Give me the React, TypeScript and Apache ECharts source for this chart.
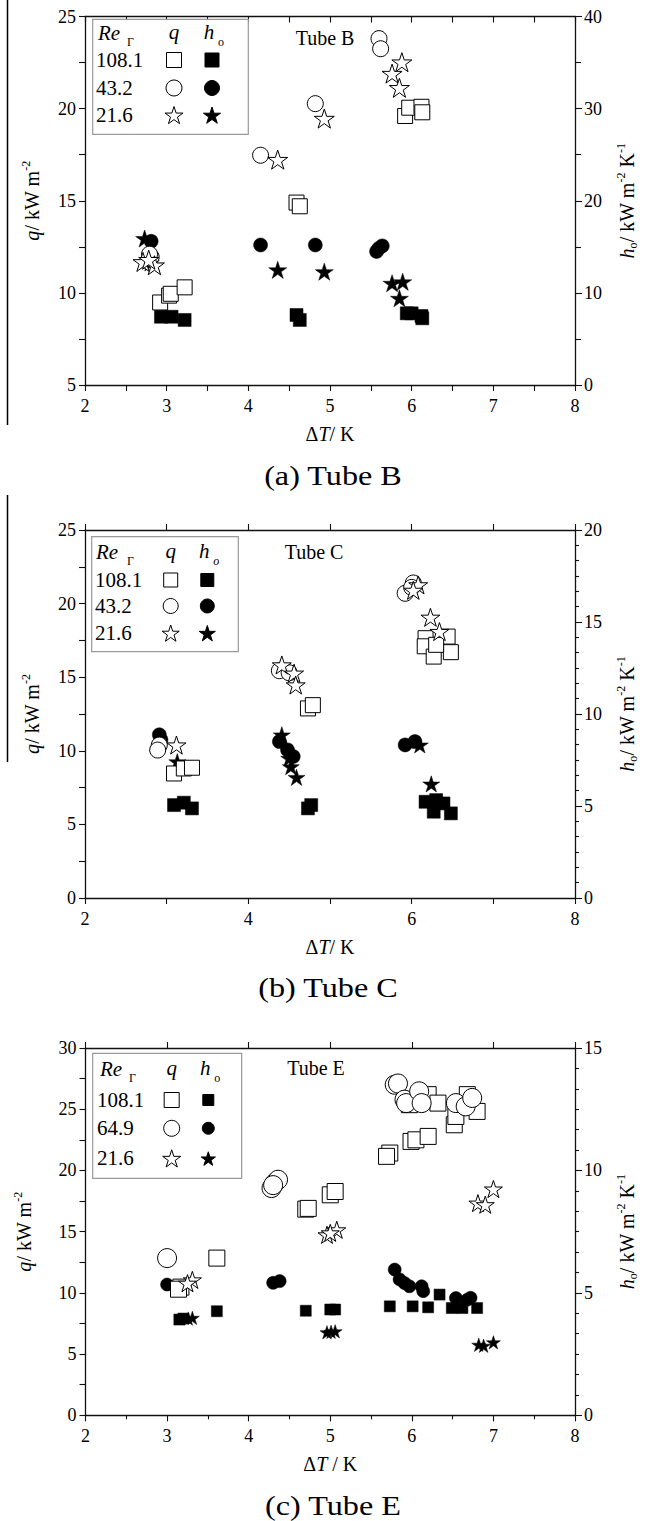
import React, { useEffect, useRef } from "react";
import * as echarts from "echarts";

const FONT = '"Liberation Serif", "Times New Roman", serif';
const STAR =
  "path://M50 0 L61.23 34.55 L97.55 34.55 L68.17 55.9 L79.39 90.45 L50 69.1 L20.61 90.45 L31.83 55.9 L2.45 34.55 L38.77 34.55 Z";

// ---------- Panel (a) Tube B : [ΔT (K), value] ----------
const aQ108 = [[2.92, 9.48], [3.03, 9.85], [3.05, 9.95], [3.22, 10.3], [4.59, 14.9], [4.63, 14.7], [5.92, 19.6], [5.97, 20.05], [6.12, 20.1], [6.13, 19.8]];
const aQ43 = [[2.81, 11.95], [2.79, 12.1], [4.15, 17.47], [4.82, 20.27], [5.6, 23.8], [5.62, 23.25]];
const aQ21 = [[2.71, 11.68], [2.85, 11.5], [2.78, 11.8], [4.36, 17.23], [4.93, 19.46], [5.88, 22.52], [5.76, 21.9], [5.85, 21.13]];
const aH108 = [[2.93, 7.41], [3.06, 7.41], [3.22, 7.06], [4.59, 7.6], [4.63, 7.06], [5.94, 7.78], [6.0, 7.78], [6.12, 7.49], [6.13, 7.24]];
const aH43 = [[2.81, 15.6], [4.15, 15.2], [4.82, 15.2], [5.6, 14.84], [5.64, 15.1], [5.57, 14.5]];
const aH21 = [[2.73, 15.9], [2.85, 13.0], [2.8, 13.3], [4.36, 12.5], [4.93, 12.3], [5.76, 11.04], [5.89, 11.2], [5.85, 9.41]];

// ---------- Panel (b) Tube C ----------
const bQ108 = [[3.09, 8.46], [3.21, 8.8], [3.31, 8.85], [4.73, 12.88], [4.79, 13.1], [6.17, 17.65], [6.44, 17.76], [6.16, 17.1], [6.27, 16.4], [6.48, 16.7], [6.3, 17.2]];
const bQ43 = [[2.91, 10.39], [2.89, 10.05], [4.38, 15.44], [4.5, 15.3], [5.92, 20.7], [6.02, 21.4], [6.0, 21.1]];
const bQ21 = [[3.12, 10.39], [4.41, 15.83], [4.56, 15.27], [4.58, 14.47], [6.08, 21.27], [6.02, 20.9], [6.23, 19.07], [6.34, 18.1]];
const bH108 = [[3.09, 5.05], [3.21, 5.18], [3.31, 4.87], [4.73, 4.87], [4.77, 5.05], [6.17, 5.23], [6.27, 4.69], [6.39, 5.14], [6.48, 4.6], [6.3, 5.32]];
const bH43 = [[2.91, 8.87], [2.93, 8.6], [4.38, 8.5], [4.48, 8.05], [4.55, 7.69], [5.92, 8.32], [6.04, 8.5]];
const bH21 = [[3.13, 7.41], [4.41, 8.87], [4.52, 7.14], [4.59, 6.56], [4.5, 7.6], [6.1, 8.32], [6.24, 6.2]];

// ---------- Panel (c) Tube E ----------
const cQ108 = [[3.17, 10.47], [3.14, 10.3], [3.61, 12.84], [4.7, 16.84], [4.73, 16.9], [5.0, 18.01], [5.06, 18.28], [5.73, 21.42], [5.69, 21.15], [5.99, 22.37], [6.05, 22.5], [6.2, 22.78], [5.97, 25.37], [6.2, 26.19], [6.32, 25.5], [6.52, 23.73], [6.54, 24.41], [6.68, 26.19], [6.8, 24.82]];
const cQ64 = [[3.0, 12.84], [4.28, 18.56], [4.32, 18.97], [4.36, 19.24], [4.3, 18.8], [5.79, 27.0], [5.83, 27.1], [5.91, 25.78], [5.93, 25.5], [6.09, 26.46], [6.12, 25.5], [6.54, 25.5], [6.66, 25.23], [6.74, 25.92]];
const cQ21 = [[3.31, 11.06], [3.25, 10.79], [4.96, 14.74], [5.08, 15.15], [5.0, 14.9], [7.0, 18.48], [6.81, 17.33], [6.9, 17.2]];
const cH108 = [[3.15, 3.91], [3.2, 3.95], [3.61, 4.25], [4.7, 4.27], [5.0, 4.32], [5.06, 4.32], [5.73, 4.45], [6.01, 4.45], [6.2, 4.41], [6.34, 4.93], [6.49, 4.38], [6.62, 4.38], [6.8, 4.38]];
const cH64 = [[3.0, 5.34], [4.3, 5.41], [4.38, 5.48], [5.79, 5.95], [5.85, 5.55], [5.91, 5.4], [5.97, 5.27], [6.12, 5.27], [6.14, 5.07], [6.54, 4.79], [6.68, 4.72], [6.72, 4.8]];
const cH21 = [[3.31, 3.98], [3.26, 3.95], [4.96, 3.39], [5.06, 3.43], [5.01, 3.41], [6.82, 2.88], [6.88, 2.84], [7.0, 2.98]];

const legendA = ["108.1", "43.2", "21.6"];
const legendB = ["108.1", "43.2", "21.6"];
const legendC = ["108.1", "64.9", "21.6"];

const LINE = { color: "#111", width: 1.3 };
const TICKLINE = { color: "#111", width: 1.1 };
const richBase = {
  i: { fontStyle: "italic", fontFamily: FONT, fontSize: 20, color: "#000", lineHeight: 24 },
  sup: { fontFamily: FONT, fontSize: 12, color: "#000", verticalAlign: "top", lineHeight: 12 },
  sub: { fontFamily: FONT, fontSize: 12, color: "#000", verticalAlign: "bottom", lineHeight: 12 },
};
const NAME_STYLE = { fontFamily: FONT, fontSize: 20, color: "#000", lineHeight: 24, rich: richBase };

function starPts(cx, cy, r) {
  const pts = [];
  for (let k = 0; k < 10; k++) {
    const rr = k % 2 === 0 ? r : r * 0.382;
    const ang = (-90 + 36 * k) * (Math.PI / 180);
    pts.push([cx + rr * Math.cos(ang), cy + rr * Math.sin(ang)]);
  }
  return pts;
}

function legendGraphic(cfg) {
  const els = [];
  els.push({ type: "rect", z: 100, shape: { x: cfg.box[0], y: cfg.box[1], width: cfg.box[2], height: cfg.box[3] }, style: { fill: "#fff", stroke: "#999", lineWidth: 1.2 } });
  const t = (text, x, y, size, italic, align) => ({
    type: "text", z: 101, x, y,
    style: { text, fontFamily: FONT, fontSize: size, fontStyle: italic ? "italic" : "normal", fill: "#000", align: align || "left", verticalAlign: "middle" },
  });
  els.push(t("Re", cfg.reX, cfg.hy, 21, true));
  els.push(t("Γ", cfg.gX, cfg.hy + 9, 12, false));
  els.push(t("q", cfg.qX, cfg.hy - 1, 21, true, "center"));
  els.push(t("h", cfg.hX - 3, cfg.hy - 1, 21, true, "center"));
  els.push(t("o", cfg.hX + 9, cfg.hy + 9, 12, cfg.oItalic, "center"));
  cfg.labels.forEach((lab, r) => {
    const y = cfg.rows[r];
    els.push(t(lab, cfg.txtX, y, 21, false));
    for (let c = 0; c < 2; c++) {
      const x = c === 0 ? cfg.qX : cfg.hX;
      const filled = c === 1;
      const s = filled ? cfg.fs : cfg.os;
      const style = filled ? { fill: "#000", stroke: "#000", lineWidth: 1 } : { fill: "#fff", stroke: "#000", lineWidth: 1 };
      if (r === 0) els.push({ type: "rect", z: 101, shape: { x: x - s / 2, y: y - s / 2, width: s, height: s }, style });
      else if (r === 1) els.push({ type: "circle", z: 101, shape: { cx: x, cy: y, r: s / 2 + 0.5 }, style });
      else els.push({ type: "polygon", z: 101, shape: { points: starPts(x, y + 1, s / 2 + 2) }, style });
    }
  });
  return els;
}

function panel(i, p) {
  const grid = { left: p.grid[0], top: p.grid[1], width: p.grid[2], height: p.grid[3] };
  const xb = {
    type: "value", gridIndex: i, position: "bottom", min: 2, max: 8, interval: p.xInt,
    axisLine: { show: true, onZero: false, lineStyle: LINE },
    axisTick: { show: true, inside: false, length: 6, lineStyle: TICKLINE },
    minorTick: { show: p.xMinor > 1, splitNumber: p.xMinor, length: p.xMinorLen, lineStyle: TICKLINE },
    splitLine: { show: false },
    axisLabel: { color: "#000", fontFamily: FONT, fontSize: 18, margin: 12 },
    name: p.xName, nameLocation: "middle", nameGap: 37,
    nameTextStyle: NAME_STYLE,
  };
  const xt = {
    type: "value", gridIndex: i, position: "top", min: 2, max: 8, interval: p.topInt,
    axisLine: { show: true, onZero: false, lineStyle: LINE },
    axisTick: { show: true, inside: p.topInside, length: 6, lineStyle: TICKLINE },
    axisLabel: { show: false }, splitLine: { show: false },
  };
  const yl = {
    type: "value", gridIndex: i, position: "left", min: p.yl[0], max: p.yl[1], interval: 5,
    axisLine: { show: true, onZero: false, lineStyle: LINE },
    axisTick: { show: true, inside: false, length: 6, lineStyle: TICKLINE },
    minorTick: { show: true, splitNumber: 2, length: 6, lineStyle: TICKLINE },
    splitLine: { show: false },
    axisLabel: { color: "#000", fontFamily: FONT, fontSize: 18, margin: 9 },
    name: "{i|q}/ kW m{sup|-2}", nameLocation: "middle", nameGap: p.ylGap,
    nameTextStyle: NAME_STYLE,
  };
  const yr = {
    type: "value", gridIndex: i, position: "right", min: 0, max: p.yr[0], interval: p.yr[1],
    axisLine: { show: true, onZero: false, lineStyle: LINE },
    axisTick: { show: true, inside: false, length: 7, lineStyle: TICKLINE },
    minorTick: { show: true, splitNumber: p.yrMinor, length: p.yrMinor > 2 ? 4 : 6, lineStyle: TICKLINE },
    splitLine: { show: false },
    axisLabel: { color: "#000", fontFamily: FONT, fontSize: 18, margin: 9 },
    name: "{i|h}{sub|o}/ kW m{sup|-2} K{sup|-1}", nameLocation: "middle", nameGap: 40,
    nameTextStyle: NAME_STYLE,
  };
  const open = { color: "#fff", borderColor: "#000", borderWidth: 1, opacity: 1 };
  const fill = { color: "#000", borderColor: "#000", borderWidth: 0.5, opacity: 1 };
  const mk = (data, right, symbol, size, filled) => ({
    type: "scatter", xAxisIndex: 2 * i, yAxisIndex: 2 * i + (right ? 1 : 0), data,
    symbol, symbolSize: size, symbolKeepAspect: true, itemStyle: filled ? fill : open, silent: true,
  });
  const s = p.sizes;
  const series = [
    mk(p.h[0], true, "rect", s.fs, true),
    mk(p.h[1], true, "circle", s.fc, true),
    mk(p.h[2], true, STAR, s.fst, true),
    mk(p.q[0], false, "rect", s.os, false),
    mk(p.q[1], false, "circle", s.oc, false),
    mk(p.q[2], false, STAR, s.ost, false),
  ];
  return { grid, xAxis: [xb, xt], yAxis: [yl, yr], series };
}

export default function App() {
  const ref = useRef(null);
  useEffect(() => {
    const chart = echarts.init(ref.current, null, { renderer: "svg" });
    const panels = [
      panel(0, {
        grid: [85, 16.5, 495, 368.5], xInt: 1, xMinor: 2, xMinorLen: 6, topInt: 0.5, topInside: true,
        yl: [5, 25], ylGap: 41, yr: [40, 10], yrMinor: 2, xName: "Δ{i|T}/ K",
        q: [aQ108, aQ43, aQ21], h: [aH108, aH43, aH21],
        sizes: { os: 15, oc: 16, ost: 20, fs: 13, fc: 14, fst: 18 },
      }),
      panel(1, {
        grid: [85, 530, 495, 368], xInt: 2, xMinor: 2, xMinorLen: 6, topInt: 1, topInside: false,
        yl: [0, 25], ylGap: 41, yr: [20, 5], yrMinor: 6, xName: "Δ{i|T}/ K",
        q: [bQ108, bQ43, bQ21], h: [bH108, bH43, bH21],
        sizes: { os: 15, oc: 16, ost: 19, fs: 13, fc: 14, fst: 17 },
      }),
      panel(2, {
        grid: [85.5, 1048, 495, 367.3], xInt: 1, xMinor: 2, xMinorLen: 4, topInt: 1, topInside: false,
        yl: [0, 30], ylGap: 50, yr: [15, 5], yrMinor: 6, xName: "Δ{i|T} / K",
        q: [cQ108, cQ64, cQ21], h: [cH108, cH64, cH21],
        sizes: { os: 16, oc: 19, ost: 18, fs: 11, fc: 13, fst: 14 },
      }),
    ];
    const caption = (text, x, y) => ({
      type: "text", x, y, z: 50, scaleX: 1.15,
      style: { text, fontFamily: FONT, fontSize: 28, fill: "#000", align: "center", verticalAlign: "middle" },
    });
    const tube = (text, x, y) => ({
      type: "text", x, y, z: 50,
      style: { text, fontFamily: FONT, fontSize: 20, fill: "#000", align: "center", verticalAlign: "middle" },
    });
    const graphic = [
      { type: "line", shape: { x1: 7.5, y1: 0, x2: 7.5, y2: 425 }, style: { stroke: "#000", lineWidth: 1.5 } },
      { type: "line", shape: { x1: 7.5, y1: 495, x2: 7.5, y2: 762 }, style: { stroke: "#000", lineWidth: 1.5 } },
      caption("(a) Tube B", 333, 476),
      caption("(b) Tube C", 328, 988),
      caption("(c) Tube E", 333, 1506),
      tube("Tube B", 325, 38),
      tube("Tube C", 314, 552),
      tube("Tube E", 316, 1068),
      ...legendGraphic({ box: [92.7, 19.3, 155.6, 115], hy: 33, reX: 98, gX: 127, qX: 174, hX: 212, oItalic: false, rows: [60, 88, 115], txtX: 96, labels: legendA, os: 15, fs: 14 }),
      ...legendGraphic({ box: [91.7, 536.7, 146.6, 115], hy: 552, reX: 96, gX: 127, qX: 170.7, hX: 207.3, oItalic: true, rows: [580, 606, 633], txtX: 95, labels: legendB, os: 14, fs: 13 }),
      ...legendGraphic({ box: [92.7, 1053.3, 149, 125], hy: 1069, reX: 100, gX: 129, qX: 171.7, hX: 208.3, oItalic: false, rows: [1100, 1128.3, 1158.3], txtX: 97, labels: legendC, os: 15, fs: 11 }),
    ];
    chart.setOption({
      animation: false,
      backgroundColor: "#fff",
      textStyle: { fontFamily: FONT },
      grid: panels.map((p) => p.grid),
      xAxis: panels.flatMap((p) => p.xAxis),
      yAxis: panels.flatMap((p) => p.yAxis),
      series: panels.flatMap((p) => p.series),
      graphic,
    });
    return () => chart.dispose();
  }, []);
  return <div ref={ref} style={{ position: "absolute", left: 0, top: 0, width: 647, height: 1521 }} />;
}
